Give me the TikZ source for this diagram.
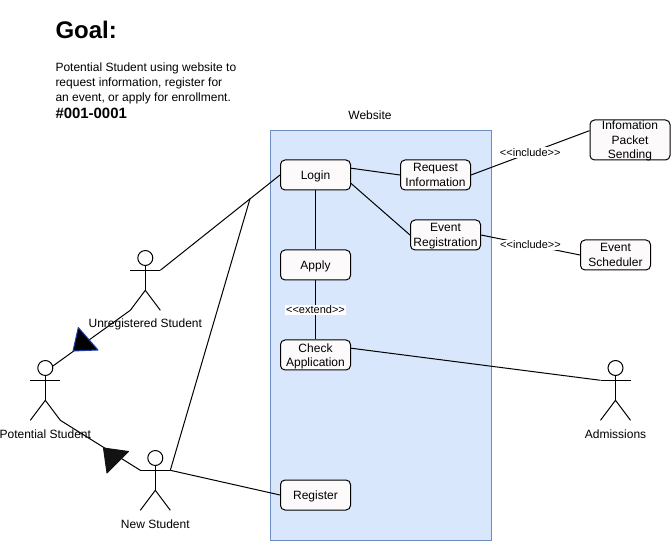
\documentclass[tikz,border=0pt]{standalone}
\usepackage{fontspec}
\setmainfont{Liberation Sans}
\definecolor{sysfill}{HTML}{D8E7FB}
\definecolor{sysline}{HTML}{6C8EBF}
\definecolor{casefill}{HTML}{FCFAFA}
\definecolor{tipline}{HTML}{1F3FB0}
\begin{document}
\begin{tikzpicture}[x=0.75pt, y=-0.75pt, line width=0.75pt,
		case/.style={draw, fill=casefill, rounded corners=3.4pt, minimum width=52.5pt, minimum height=22.5pt, inner sep=0pt, align=center, text depth=0pt, font=\fontsize{9}{11}\selectfont},
		casetext/.style={inner sep=0pt, align=center, font=\fontsize{9}{11}\selectfont},
		actorhead/.style={circle, draw, inner sep=0pt, minimum size=11.25pt},
		actorname/.style={inner sep=0pt, font=\fontsize{9}{11}\selectfont},
		tag/.style={fill=white, inner sep=1pt, font=\fontsize{8.25}{10}\selectfont}]
		\useasboundingbox (0,0) rectangle (671,541);
		% heading
		\node[anchor=west, inner sep=0pt, font=\bfseries\fontsize{18}{22}\selectfont] (goal) at (55,30) {Goal:};
		\node[anchor=north west, inner sep=0pt, align=left, font=\fontsize{9}{11}\selectfont] (desc) at (55,62.5) {Potential Student using website to\\request information, register for\\an event, or apply for enrollment.};
		\node[anchor=west, inner sep=0pt, font=\bfseries\fontsize{11.2}{13}\selectfont] (ref) at (55,113) {\#001-0001};
		% system box
		\node[draw=sysline, fill=sysfill, minimum width=165.75pt, minimum height=307.9pt, inner sep=0pt] (website) at (380.5,335.3) {};
		\node[actorname] (websitename) at (370,115) {Website};
		% use cases
		\node[case] (login) at (315.5,175) {Login};
		\node[case, text depth=-1.2pt] (request) at (435.5,175) {Request\\Information};
		\node[case] (event) at (445.5,235) {Event\\Registration};
		\node[case] (apply) at (315.5,265) {Apply};
		\node[case] (check) at (315.5,355) {Check\\Application};
		\node[case] (register) at (315.5,495) {Register};
		\node[case, minimum width=60pt, minimum height=30pt] (info) at (630,140) {};
		\node[casetext] (infotext) at (630,141.2) {Infomation\\Packet\\Sending};
		\node[case, text depth=-1.2pt] (scheduler) at (615.5,255) {Event\\Scheduler};
		% actors
		\foreach \who/\x/\y/\txt in {unreg/145.3/258/Unregistered Student, potential/45.3/368/Potential Student, newstudent/155.3/458/New Student, admissions/615.5/368/Admissions}{
		  \node[actorhead] (\who) at (\x,\y) {};
		  \coordinate (\who-l) at ({\x-15},{\y+12.3});
		  \coordinate (\who-r) at ({\x+15},{\y+12.3});
		  \coordinate (\who-fl) at ({\x-15},{\y+52.3});
		  \coordinate (\who-fr) at ({\x+15},{\y+52.3});
		  \draw (\who.south) -- ({\x},{\y+32.3}) coordinate (\who-hip);
		  \draw (\who-l) -- (\who-r);
		  \draw (\who-fl) -- (\who-hip) -- (\who-fr);
		  \node[actorname] (\who-name) at (\x,{\y+66}) {\txt};
		}
		% connectors
		\coordinate (joint) at (250,198.8);
		\draw (unreg-r) -- (login.west);
		\draw (newstudent-r) -- (joint);
		\draw (newstudent-r) -- (register.west);
		\draw (unreg-fl) -- (potential.15);
		\draw (potential-fr) -- (newstudent-l);
		\draw ([yshift=5.1pt]login.east) -- (request.west);
		\draw ([yshift=-6.3pt]login.east) -- (event.west);
		\draw (login) -- (apply);
		\draw (apply) -- (check) node[midway, tag] (extendtag) {<{}<extend>{}>};
		\draw (request.east) -- ([yshift=7pt]info.west) node[pos=0.5, tag] (includeone) {<{}<include>{}>};
		\draw (event.east) -- (scheduler.west) node[pos=0.5, tag] (includetwo) {<{}<include>{}>};
		\draw ([yshift=5.1pt]check.east) -- (admissions-l);
		% generalisation tips
		\filldraw[fill=black, draw=tipline, line join=round] (78.3,327.5) -- (73,351) -- (98,350) -- cycle;
		\filldraw[fill=black!93, draw=black!93, line join=round] (103.5,448) -- (107,473) -- (128.5,451.5) -- cycle;
	\end{tikzpicture}
\end{document}
